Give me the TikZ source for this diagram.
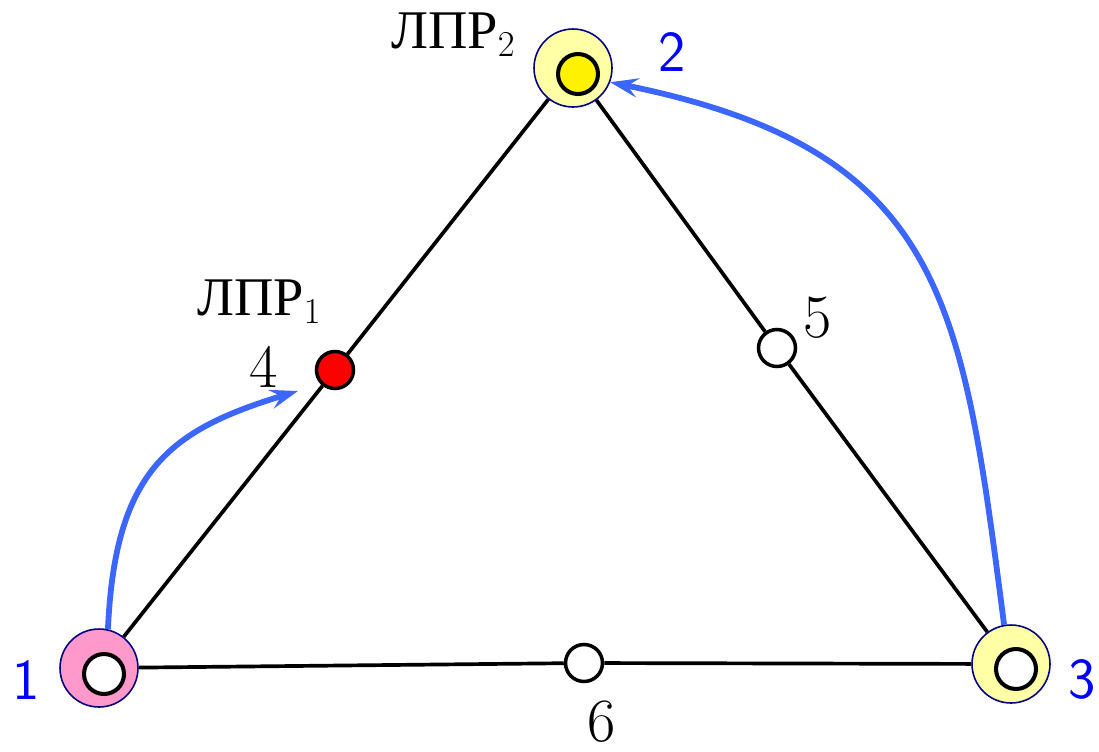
\documentclass[tikz,border=0pt]{standalone}
\usepackage{fontspec}
\newfontfamily\cyrfont{Liberation Serif}
\usepackage{tikz}
\usetikzlibrary{arrows.meta, backgrounds}
\usepackage{xcolor}
\definecolor{vertex-pink}{HTML}{FF99CC}
\definecolor{vertex-yellow}{HTML}{FFFFA6}
\definecolor{ring-navy}{HTML}{000080}
\definecolor{move-blue}{HTML}{3B66FF}

\begin{document}
\begin{tikzpicture}[x=0.02cm, y=-0.02cm,
    vertex/.style={circle, draw=ring-navy, line width=0.9pt, minimum size=1.56cm, inner sep=0pt},
    core/.style={circle, draw=black, line width=2.3pt, fill=white, minimum size=0.8cm, inner sep=0pt},
    spot/.style={circle, draw=black, line width=2pt, fill=white, minimum size=0.74cm, inner sep=0pt},
    edge/.style={draw=black, line width=2.1pt},
    move/.style={draw=move-blue, line width=3.3pt, -{Stealth[length=16pt, width=11pt, inset=6pt]}},
    vlabel/.style={text=blue, font=\sffamily\fontsize{33}{40}\selectfont, inner sep=0pt},
    plabel/.style={font=\fontsize{35}{42}\selectfont, inner sep=0pt},
    dmlabel/.style={font=\cyrfont\fontsize{31}{37}\selectfont, inner sep=0pt, anchor=base west}]
    \path[use as bounding box] (0,0) rectangle (1099,751);

    \node[vertex, fill=vertex-pink] (v1) at (99,668) {};
    \node[vertex, fill=vertex-yellow] (v2) at (573,68) {};
    \node[vertex, fill=vertex-yellow] (v3) at (1011,664) {};
    \node[core] (v1in) at (104,674) {};
    \node[core, fill=yellow] (v2in) at (578,74) {};
    \node[core] (v3in) at (1016,669) {};

    \node[spot, fill=red] (n4) at (335,370) {};
    \node[spot] (n5) at (777,348) {};
    \node[spot] (n6) at (584,663) {};

    \begin{scope}[on background layer]
      \draw[edge] (v1) -- (n4) -- (v2) -- (n5) -- (v3) -- (n6) -- (v1);
    \end{scope}

    \coordinate (tip4) at (298,391);
    \draw[move] (v1.77) .. controls (115,470) and (170,430) .. (tip4);
    \draw[move] (v3.100) .. controls (962,300) and (945,150) .. (v2.-21);

    \node[dmlabel] (dm2) at (391,48) {ЛПР$_2$};
    \node[dmlabel] (dm1) at (197,315) {ЛПР$_1$};

    \node[plabel] (t4) at (264,367) {4};
    \node[plabel] (t5) at (818,318) {5};
    \node[plabel] (t6) at (602,722) {6};

    \node[vlabel] (t1) at (26,680) {1};
    \node[vlabel] (t2) at (672,52) {2};
    \node[vlabel] (t3) at (1082,679) {3};
  \end{tikzpicture}
\end{document}
